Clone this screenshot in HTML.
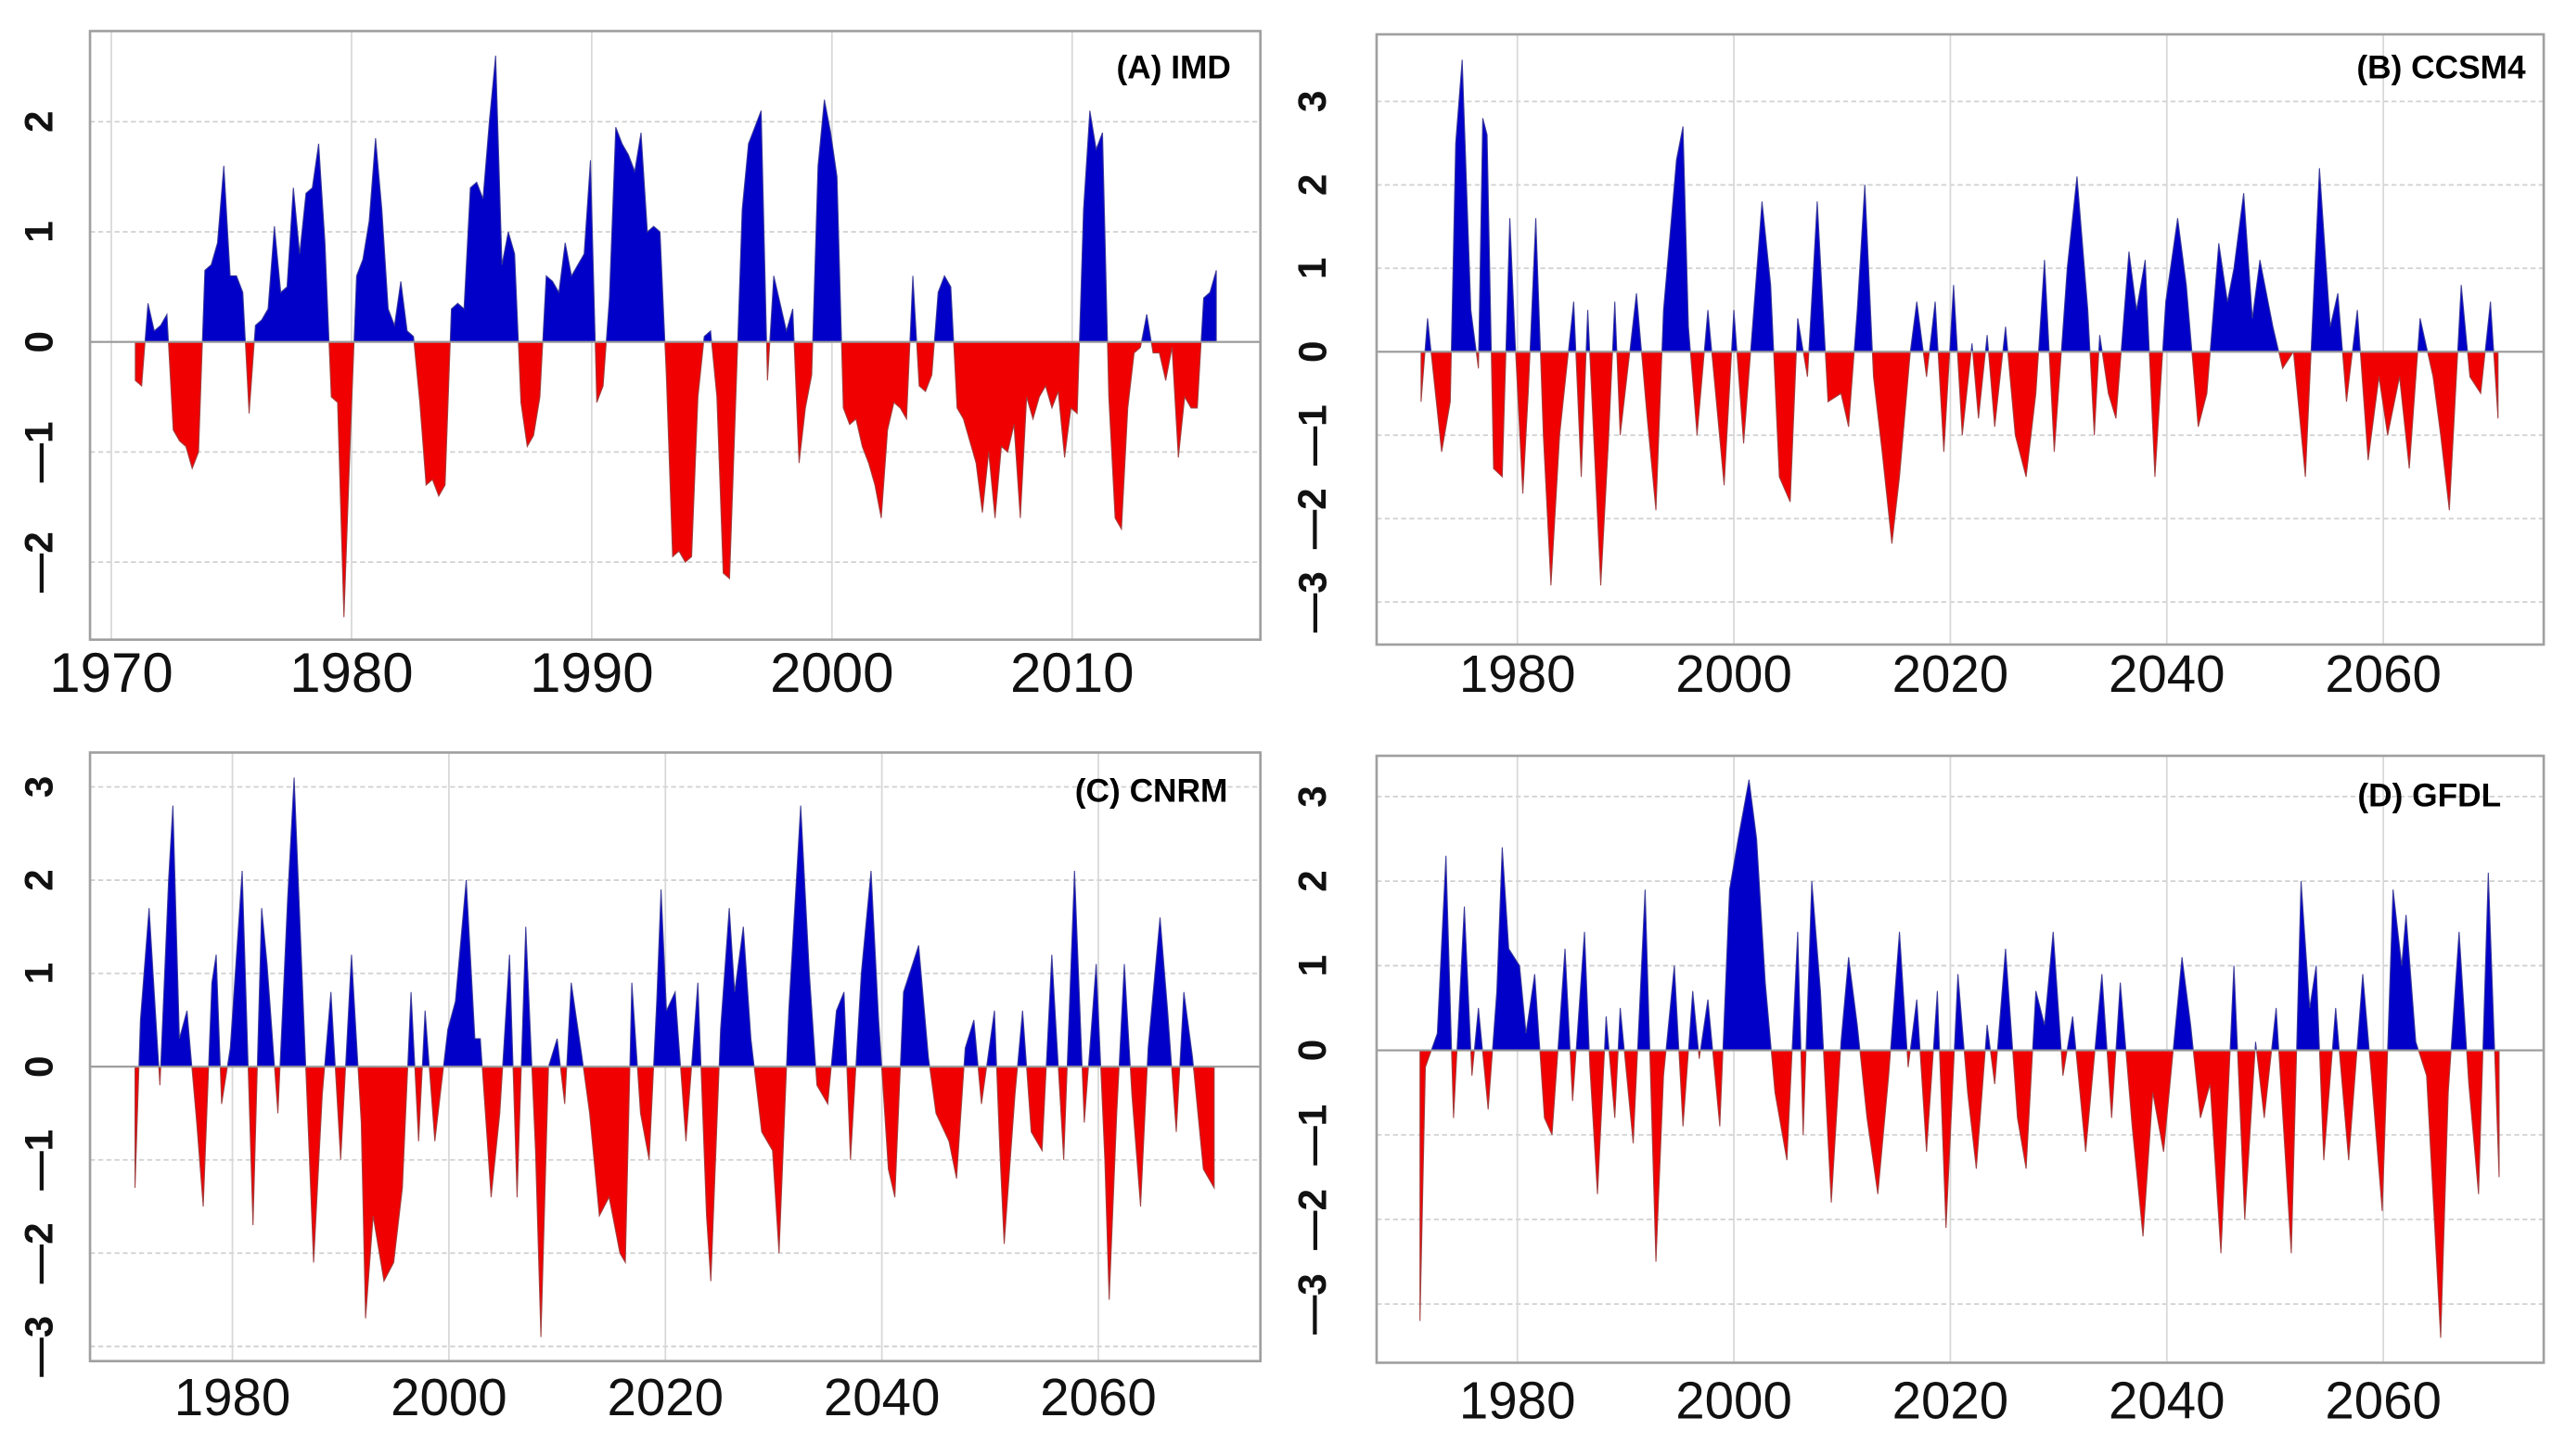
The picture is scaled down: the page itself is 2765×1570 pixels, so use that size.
<!DOCTYPE html>
<html><head><meta charset="utf-8"><style>
html,body{margin:0;padding:0;background:#fff;}
svg{display:block;}
text{font-family:"Liberation Sans",sans-serif;}
</style></head><body>
<svg id="fig" width="2765" height="1570" viewBox="0 0 1567 890" preserveAspectRatio="none" xmlns="http://www.w3.org/2000/svg"></svg>
<script>
// ---- data ----
const seriesA = [-0.35,-0.4,0.35,0.1, 0.15,0.25,-0.8,-0.9, -0.95,-1.15,-1.0,0.65, 0.7,0.9,1.6,0.6, 0.6,0.45,-0.65,0.15, 0.2,0.3,1.05,0.45, 0.5,1.4,0.8,1.35, 1.4,1.8,0.9,-0.5, -0.55,-2.5,-0.9,0.6, 0.75,1.1,1.85,1.2, 0.3,0.15,0.55,0.1, 0.05,-0.55,-1.3,-1.25, -1.4,-1.3,0.3,0.35, 0.3,1.4,1.45,1.3, 2.0,2.6,0.7,1.0, 0.8,-0.55,-0.95,-0.85, -0.5,0.6,0.55,0.45, 0.9,0.6,0.7,0.8, 1.65,-0.55,-0.4,0.4, 1.95,1.8,1.7,1.55, 1.9,1.0,1.05,1.0, -0.3,-1.95,-1.9,-2.0, -1.95,-0.5,0.05,0.1, -0.5,-2.1,-2.15,-0.5, 1.2,1.8,1.95,2.1, -0.35,0.6,0.35,0.1, 0.3,-1.1,-0.6,-0.3, 1.6,2.2,1.9,1.5, -0.6,-0.75,-0.7,-0.95, -1.1,-1.3,-1.6,-0.8, -0.55,-0.6,-0.7,0.6, -0.4,-0.45,-0.3,0.45, 0.6,0.5,-0.6,-0.7, -0.9,-1.1,-1.55,-1.0, -1.6,-0.95,-1.0,-0.75, -1.6,-0.5,-0.7,-0.5, -0.4,-0.6,-0.45,-1.05, -0.6,-0.65,1.2,2.1, 1.75,1.9,-0.5,-1.6, -1.7,-0.6,-0.1,-0.05, 0.25,-0.1,-0.1,-0.35, -0.05,-1.05,-0.5,-0.6, -0.6,0.4,0.45,0.65];

const yearsB = [1971.1,1971.7,1973.0,1973.8,1974.3,1974.9,1975.7,1976.4,1976.8,1977.2,1977.8,1978.6,1979.3,1979.8,1980.5,1981.0,1981.7,1982.4,1983.1,1983.9,1985.2,1985.9,1986.5,1987.7,1988.4,1989.0,1989.5,1991.0,1992.0,1992.8,1993.5,1994.7,1995.3,1995.8,1996.6,1997.6,1999.1,2000.0,2000.9,2001.9,2002.6,2003.4,2004.2,2005.2,2005.9,2006.8,2007.7,2008.7,2009.9,2010.6,2011.4,2012.1,2012.9,2013.7,2014.6,2015.3,2016.3,2016.9,2017.8,2018.6,2019.4,2020.3,2021.1,2022.0,2022.6,2023.4,2024.1,2025.1,2026.0,2027.0,2027.9,2028.7,2029.6,2030.8,2031.7,2032.7,2033.3,2033.8,2034.6,2035.3,2036.5,2037.2,2038.0,2038.9,2039.9,2041.0,2041.8,2042.9,2043.7,2044.8,2045.6,2046.2,2047.1,2047.9,2048.6,2049.8,2050.7,2051.7,2052.8,2054.1,2055.1,2055.8,2056.6,2057.6,2058.6,2059.6,2060.4,2061.5,2062.4,2063.4,2064.6,2065.3,2066.1,2067.2,2068.0,2069.0,2069.9,2070.6];
const valuesB = [-0.6,0.4,-1.2,-0.6,2.5,3.5,0.5,-0.2,2.8,2.6,-1.4,-1.5,1.6,0.1,-1.7,-0.5,1.6,-1.0,-2.8,-1.0,0.6,-1.5,0.5,-2.8,-1.1,0.6,-1.0,0.7,-0.8,-1.9,0.5,2.3,2.7,0.3,-1.0,0.5,-1.6,0.5,-1.1,0.6,1.8,0.8,-1.5,-1.8,0.4,-0.3,1.8,-0.6,-0.5,-0.9,0.5,2.0,-0.3,-1.2,-2.3,-1.5,0.0,0.6,-0.3,0.6,-1.2,0.8,-1.0,0.1,-0.8,0.2,-0.9,0.3,-1.0,-1.5,-0.5,1.1,-1.2,1.0,2.1,0.5,-1.0,0.2,-0.5,-0.8,1.2,0.5,1.1,-1.5,0.6,1.6,0.8,-0.9,-0.5,1.3,0.6,1.0,1.9,0.4,1.1,0.3,-0.2,0.0,-1.5,2.2,0.3,0.7,-0.6,0.5,-1.3,-0.3,-1.0,-0.3,-1.4,0.4,-0.3,-1.0,-1.9,0.8,-0.3,-0.5,0.6,-0.8];

const yearsC = [1971.0,1971.5,1972.3,1973.3,1974.1,1974.5,1975.1,1975.8,1976.7,1977.3,1978.1,1978.5,1979.0,1979.8,1980.9,1981.9,1982.7,1983.2,1984.2,1985.1,1985.7,1986.6,1987.5,1988.3,1989.1,1990.0,1991.0,1991.9,1992.3,1993.0,1994.0,1994.9,1995.7,1996.5,1997.2,1997.8,1998.7,1999.9,2000.6,2001.6,2002.4,2002.9,2003.9,2004.7,2005.6,2006.3,2007.1,2008.0,2008.5,2009.2,2010.0,2010.7,2011.3,2012.3,2013.0,2013.9,2014.8,2015.8,2016.3,2016.9,2017.7,2018.5,2019.2,2019.6,2020.1,2020.9,2021.9,2023.0,2023.8,2024.2,2025.1,2025.9,2026.4,2027.2,2027.9,2028.9,2029.9,2030.5,2031.4,2032.5,2033.3,2034.0,2035.0,2035.8,2036.5,2037.1,2038.1,2039.0,2039.7,2040.6,2041.2,2042.0,2043.4,2044.3,2045.0,2046.2,2046.9,2047.7,2048.5,2049.2,2050.4,2050.9,2051.3,2052.3,2053.0,2053.8,2054.8,2055.7,2056.8,2057.8,2058.7,2059.8,2060.6,2061.0,2061.7,2062.4,2063.1,2063.9,2064.6,2065.7,2066.4,2067.2,2067.9,2068.7,2069.7,2070.7];
const valuesC = [-1.3,0.5,1.7,-0.2,2.0,2.8,0.3,0.6,-0.6,-1.5,0.9,1.2,-0.4,0.2,2.1,-1.7,1.7,1.1,-0.5,1.8,3.1,0.5,-2.1,-0.3,0.8,-1.0,1.2,-0.6,-2.7,-1.6,-2.3,-2.1,-1.3,0.8,-0.8,0.6,-0.8,0.4,0.7,2.0,0.3,0.3,-1.4,-0.5,1.2,-1.4,1.5,-0.9,-2.9,0.0,0.3,-0.4,0.9,0.1,-0.5,-1.6,-1.4,-2.0,-2.1,0.9,-0.5,-1.0,0.7,1.9,0.6,0.8,-0.8,0.9,-1.6,-2.3,0.4,1.7,0.8,1.5,0.3,-0.7,-0.9,-2.0,0.6,2.8,1.0,-0.2,-0.4,0.6,0.8,-1.0,1.0,2.1,0.5,-1.1,-1.4,0.8,1.3,0.1,-0.5,-0.8,-1.2,0.2,0.5,-0.4,0.6,-0.9,-1.9,-0.3,0.6,-0.7,-0.9,1.2,-1.0,2.1,-0.6,1.1,-1.0,-2.5,-0.5,1.1,-0.3,-1.5,0.2,1.6,0.6,-0.7,0.8,0.1,-1.1,-1.3];

const yearsD = [1971.0,1971.5,1972.6,1973.4,1974.1,1975.1,1975.8,1976.4,1977.3,1978.1,1978.6,1979.2,1980.2,1980.8,1981.6,1982.5,1983.2,1984.4,1985.1,1986.2,1986.7,1987.4,1988.2,1989.0,1989.5,1990.7,1991.8,1992.8,1993.5,1994.5,1995.3,1996.2,1996.8,1997.6,1998.7,1999.6,2000.4,2001.4,2002.1,2002.9,2003.8,2004.9,2005.9,2006.4,2007.2,2008.0,2009.0,2009.9,2010.6,2011.4,2012.3,2013.3,2014.3,2015.3,2016.1,2016.9,2017.8,2018.8,2019.6,2020.7,2021.6,2022.4,2023.4,2024.1,2025.1,2026.2,2027.0,2027.9,2028.7,2029.5,2030.4,2031.3,2032.5,2034.0,2034.9,2035.7,2036.8,2037.8,2038.7,2039.7,2041.4,2042.2,2043.1,2044.0,2045.0,2046.2,2047.2,2048.2,2049.0,2050.1,2051.5,2052.4,2053.2,2053.8,2054.5,2055.6,2056.8,2058.1,2058.9,2059.9,2060.9,2061.7,2062.1,2063.0,2064.0,2065.3,2066.0,2067.0,2067.9,2068.8,2069.7,2070.7];
const valuesD = [-3.2,-0.2,0.2,2.3,-0.8,1.7,-0.3,0.5,-0.7,0.7,2.4,1.2,1.0,0.2,0.9,-0.8,-1.0,1.2,-0.6,1.4,-0.2,-1.7,0.4,-0.8,0.5,-1.1,1.9,-2.5,-0.3,1.0,-0.9,0.7,-0.1,0.6,-0.9,1.9,2.5,3.2,2.5,0.8,-0.5,-1.3,1.4,-1.0,2.0,0.7,-1.8,0.1,1.1,0.3,-0.8,-1.7,-0.3,1.4,-0.2,0.6,-1.2,0.7,-2.1,0.9,-0.5,-1.4,0.3,-0.4,1.2,-0.8,-1.4,0.7,0.3,1.4,-0.3,0.4,-1.2,0.9,-0.8,0.8,-0.9,-2.2,-0.5,-1.2,1.1,0.3,-0.8,-0.4,-2.4,1.0,-2.0,0.1,-0.8,0.5,-2.4,2.0,0.5,1.0,-1.3,0.5,-1.3,0.9,-0.3,-1.9,1.9,1.0,1.6,0.1,-0.3,-3.4,-0.5,1.4,-0.4,-1.7,2.1,-1.5];

const yearsA = [1970,1980,1990,2000,2010];
const yearsModel = [1980,2000,2020,2040,2060];
const yTicksA = [-2,-1,0,1,2];
const yTicksModel = [-3,-2,-1,0,1,2,3];

const NS = "http://www.w3.org/2000/svg";
const svg = document.getElementById('fig');
function mk(tag, attrs, parent){ const e=document.createElementNS(NS,tag); for(const k in attrs) e.setAttribute(k,attrs[k]); (parent||svg).appendChild(e); return e; }

function uniformYears(n,t0,t1){ const out=[]; for(let i=0;i<n;i++) out.push(t0+i*(t1-t0)/(n-1)); return out; }

const panels = [
 {id:'a', title:'(A) IMD', vals:seriesA, yrs:uniformYears(seriesA.length,1971,2016), xt:yearsA, yt:yTicksA,
  L:55,R:770,T:19,B:391, xa:1970,xaPx:68,xb:2010,xbPx:655, y0:209, unit:67.3, ylabX:32, xlabY:423, xfs:34, tx:752, ty:48},
 {id:'b', title:'(B)  CCSM4', vals:valuesB, yrs:yearsB, xt:yearsModel, yt:yTicksModel,
  L:841,R:1554,T:21,B:394, xa:1980,xaPx:927,xb:2060,xbPx:1456, y0:215, unit:51, ylabX:810, xlabY:423, xfs:32, tx:1543, ty:48},
 {id:'c', title:'(C) CNRM', vals:valuesC, yrs:yearsC, xt:yearsModel, yt:yTicksModel,
  L:55,R:770,T:460,B:832, xa:1980,xaPx:142,xb:2060,xbPx:671, y0:652, unit:57, ylabX:32, xlabY:865, xfs:32, tx:750, ty:490},
 {id:'d', title:'(D)  GFDL', vals:valuesD, yrs:yearsD, xt:yearsModel, yt:yTicksModel,
  L:841,R:1554,T:462,B:833, xa:1980,xaPx:927,xb:2060,xbPx:1456, y0:642, unit:51.7, ylabX:810, xlabY:867, xfs:32, tx:1528, ty:493}
];

panels.forEach(p=>{
  const g = mk('g',{});
  
  
  const xs = t => p.xaPx + (t-p.xa)*(p.xbPx-p.xaPx)/(p.xb-p.xa);
  const ys = v => p.y0 - v*p.unit;
  p.yt.forEach(v=>{
    const l=mk('line',{x1:p.L,x2:p.R,y1:ys(v),y2:ys(v),stroke:'#d0d0d0','stroke-width':1,'stroke-dasharray':'3,2'},g);
    
    
    const tx=mk('text',{x:p.ylabX,y:ys(v),'font-size':24,'font-weight':'bold','text-anchor':'middle',transform:`rotate(-90 ${p.ylabX} ${ys(v)})`,fill:'#111'},g);
    tx.textContent = v<0 ? '\u2014'+Math.abs(v) : String(v);
    
    
  });
  p.xt.forEach(yr=>{
    const l=mk('line',{x1:xs(yr),x2:xs(yr),y1:p.T,y2:p.B,stroke:'#d8d8d8','stroke-width':1},g);
    
    
    const tx=mk('text',{x:xs(yr),y:p.xlabY,'font-size':p.xfs,'text-anchor':'middle',fill:'#111'},g);
    tx.textContent=String(yr);
    
    
  });
  const n=p.vals.length;
  let d=`M${xs(p.yrs[0]).toFixed(2)},${p.y0}`;
  for(let i=0;i<n;i++){ d+=` L${xs(p.yrs[i]).toFixed(2)},${ys(p.vals[i]).toFixed(2)}`; }
  d+=` L${xs(p.yrs[n-1]).toFixed(2)},${p.y0} Z`;
  const cpU=mk('clipPath',{id:'up'+p.id},g); mk('rect',{x:p.L,y:p.T,width:p.R-p.L,height:p.y0-p.T},cpU);
  const cpD=mk('clipPath',{id:'dn'+p.id},g); mk('rect',{x:p.L,y:p.y0,width:p.R-p.L,height:p.B-p.y0},cpD);
  const pu=mk('path',{d:d,fill:'#0000c8',stroke:'#3a3a9a','stroke-width':0.6,'clip-path':`url(#up${p.id})`},g);
  
  
  const pd=mk('path',{d:d,fill:'#f00000',stroke:'#a04040','stroke-width':0.6,'clip-path':`url(#dn${p.id})`},g);
  
  
  const z=mk('line',{x1:p.L,x2:p.R,y1:p.y0,y2:p.y0,stroke:'#999','stroke-width':1.2},g);
  
  
  const fr=mk('rect',{x:p.L,y:p.T,width:p.R-p.L,height:p.B-p.T,fill:'none',stroke:'#a0a0a0','stroke-width':1.5},g);
  
  
  const tt=mk('text',{x:p.tx,y:p.ty,'font-size':20,'font-weight':'bold','text-anchor':'end',fill:'#000'},g);
  tt.textContent=p.title;
  
  
});
</script>
</body></html>
